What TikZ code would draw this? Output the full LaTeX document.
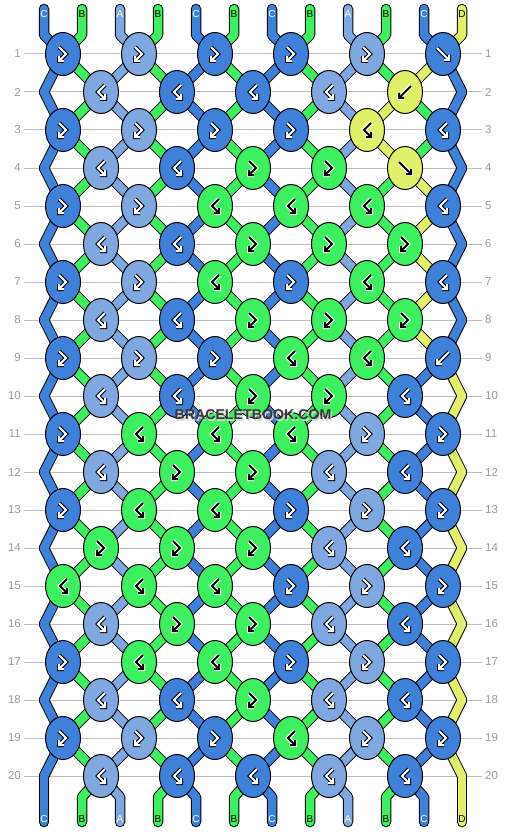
\documentclass[tikz,border=0pt]{standalone}
\usepackage{fontspec}
\setmainfont{Liberation Sans}
\usetikzlibrary{shapes.geometric}

\definecolor{colA}{HTML}{80A8E0}
\definecolor{colB}{HTML}{3CF060}
\definecolor{colC}{HTML}{3F80D8}
\definecolor{colD}{HTML}{E0F068}
\definecolor{rowgray}{HTML}{BEBEBE}
\definecolor{numgray}{HTML}{9A9A9A}
\definecolor{markgray}{HTML}{383838}
\definecolor{markshade}{HTML}{D8D8D8}

\pgfdeclarelayer{grid}
\pgfdeclarelayer{rim}
\pgfdeclarelayer{yarn}
\pgfsetlayers{grid,rim,yarn,main}

% strand colours after each row
\def\stA{C,B,A,B,C,B,C,B,A,B,C,D}
\def\stB{C,B,A,B,C,B,C,B,A,B,D,C}
\def\stC{C,B,A,B,C,B,C,B,A,D,B,C}

\tikzset{
  knot/.style={ellipse, draw=black, line width=1pt, fill=col#1,
    minimum width=35pt, minimum height=43pt, inner sep=0pt},
  ink A/.style={draw=white, preaction={draw=black, line width=4pt}},
  ink C/.style={draw=white, preaction={draw=black, line width=4pt}},
  ink B/.style={draw=black, preaction={draw=white, line width=4pt}},
  ink D/.style={draw=black, preaction={draw=white, line width=4pt}},
  glyph/.style={ink #1, line width=2pt, line cap=square},
  pics/f/.style={code={\draw[glyph=#1] (-6,-6) -- (6,6) (1,6) -- (6,6) -- (6,1);}},
  pics/b/.style={code={\draw[glyph=#1] (6,-6) -- (-6,6) (-1,6) -- (-6,6) -- (-6,1);}},
  pics/fb/.style={code={\draw[glyph=#1] (-4,-7) -- (3,0) -- (-4,7) (1,7) -- (-4,7) -- (-4,2);}},
  pics/bf/.style={code={\draw[glyph=#1] (4,-7) -- (-3,0) -- (4,7) (-1,7) -- (4,7) -- (4,2);}},
  rimline/.style={draw=black, line width=10.5pt, line cap=round, line join=round},
  yarn/.style={draw=col#1, line width=8.5pt, line cap=round, line join=round},
  tag A/.style={text=white},
  tag C/.style={text=white},
  tag B/.style={text=black},
  tag D/.style={text=black},
  tag/.style={tag #1, font=\fontsize{10}{10}\selectfont, inner sep=0pt},
  rownum/.style={text=numgray, font=\fontsize{11.5}{12}\selectfont, inner sep=3pt},
  marktext/.style={font=\bfseries\fontsize{14.2}{15}\selectfont},
}

\begin{document}
\begin{tikzpicture}[x=1pt, y=-1pt]
\useasboundingbox (0,0) rectangle (506,832);

% knots, row by row
\foreach \rw/\row in {
  1/{C/fb,A/fb,C/fb,C/fb,A/fb,C/f},
  2/{A/bf,C/bf,C/bf,A/bf,D/b},
  3/{C/fb,A/fb,C/fb,C/fb,D/bf,C/bf},
  4/{A/bf,C/bf,B/fb,B/fb,D/f},
  5/{C/fb,A/fb,B/bf,B/bf,B/bf,C/bf},
  6/{A/bf,C/bf,B/fb,B/fb,B/fb},
  7/{C/fb,A/fb,B/bf,C/fb,B/bf,C/bf},
  8/{A/bf,C/bf,B/fb,B/fb,B/fb},
  9/{C/fb,A/fb,C/fb,B/bf,B/bf,C/b},
  10/{A/bf,C/bf,B/fb,B/fb,C/bf},
  11/{C/fb,B/bf,B/bf,B/bf,A/fb,C/fb},
  12/{A/bf,B/fb,B/fb,A/bf,C/bf},
  13/{C/fb,B/bf,B/bf,C/fb,A/fb,C/fb},
  14/{B/fb,B/fb,B/fb,A/bf,C/bf},
  15/{B/bf,B/bf,B/bf,C/fb,A/fb,C/fb},
  16/{A/bf,B/fb,B/fb,A/bf,C/bf},
  17/{C/fb,B/bf,B/bf,C/fb,A/fb,C/fb},
  18/{A/bf,C/bf,B/fb,A/bf,C/bf},
  19/{C/fb,A/fb,C/fb,B/bf,A/fb,C/fb},
  20/{A/bf,C/bf,C/bf,A/bf,C/bf}}{
  \pgfmathtruncatemacro\xo{mod(\rw,2)==1 ? 63 : 101}
  \foreach \col/\kind [count=\j from 0] in \row {
    \node[knot=\col] (k-\rw-\j) at ({\xo+76*\j},{16+38*\rw}) {};
    \pic at (k-\rw-\j.center) {\kind=\col};
  }
}

% where each strand sits in each row
\foreach \rw in {1,...,20}{
  \foreach \p in {0,...,11}{
    \ifodd\rw\relax
      \pgfmathtruncatemacro\j{\p/2}
      \coordinate (s-\rw-\p) at (k-\rw-\j.center);
    \else
      \ifnum\p=0 \coordinate (s-\rw-\p) at (44,{16+38*\rw});
      \else\ifnum\p=11 \coordinate (s-\rw-\p) at (462,{16+38*\rw});
      \else
        \pgfmathtruncatemacro\j{(\p-1)/2}
        \coordinate (s-\rw-\p) at (k-\rw-\j.center);
      \fi\fi
    \fi
  }
}

% strand ends
\foreach \p in {0,...,11}{
  \coordinate (t-\p) at ({44+38*\p},9);
  \coordinate (u-\p) at ({44+38*\p},35);
  \coordinate (v-\p) at ({44+38*\p},797);
  \coordinate (w-\p) at ({44+38*\p},822);
}

% strands between rows
\foreach \rw/\lst in {1/1,2/2,3/2,4/1,5/1,6/1,7/1,8/1,9/0,10/0,
    11/0,12/0,13/0,14/0,15/0,16/0,17/0,18/0,19/0}{
  \pgfmathtruncatemacro\nx{\rw+1}
  \ifcase\lst\relax \let\cols\stA \or \let\cols\stB \or \let\cols\stC \fi
  \foreach \col [count=\p from 0] in \cols {
    \begin{pgfonlayer}{rim}
      \draw[rimline] (s-\rw-\p) -- (s-\nx-\p);
    \end{pgfonlayer}
    \begin{pgfonlayer}{yarn}
      \draw[yarn=\col] (s-\rw-\p) -- (s-\nx-\p);
    \end{pgfonlayer}
  }
}

% loose ends top and bottom
\foreach \col [count=\p from 0] in \stA {
  \begin{pgfonlayer}{rim}
    \draw[rimline] (t-\p) -- (u-\p) -- (s-1-\p);
    \draw[rimline] (s-20-\p) -- (v-\p) -- (w-\p);
  \end{pgfonlayer}
  \begin{pgfonlayer}{yarn}
    \draw[yarn=\col] (t-\p) -- (u-\p) -- (s-1-\p);
    \draw[yarn=\col] (s-20-\p) -- (v-\p) -- (w-\p);
  \end{pgfonlayer}
  \node[tag=\col] (top-\p) at ({44+38*\p},14) {\col};
  \node[tag=\col] (bot-\p) at ({44+38*\p},819) {\col};
}

% row numbers and guide lines
\begin{pgfonlayer}{grid}
\foreach \rw in {1,...,20}{
  \node[rownum, anchor=east] (nl-\rw) at (24,{16+38*\rw}) {\rw};
  \node[rownum, anchor=west] (nr-\rw) at (482,{16+38*\rw}) {\rw};
  \draw[rowgray, line width=1pt] (nl-\rw.east) -- (nr-\rw.west);
}
\end{pgfonlayer}

\node[marktext, text=markshade] (shade) at (254.2,416.2) {BRACELETBOOK.COM};
\node[marktext, text=markgray] (mark) at (253,415) {BRACELETBOOK.COM};
\end{tikzpicture}
\end{document}
